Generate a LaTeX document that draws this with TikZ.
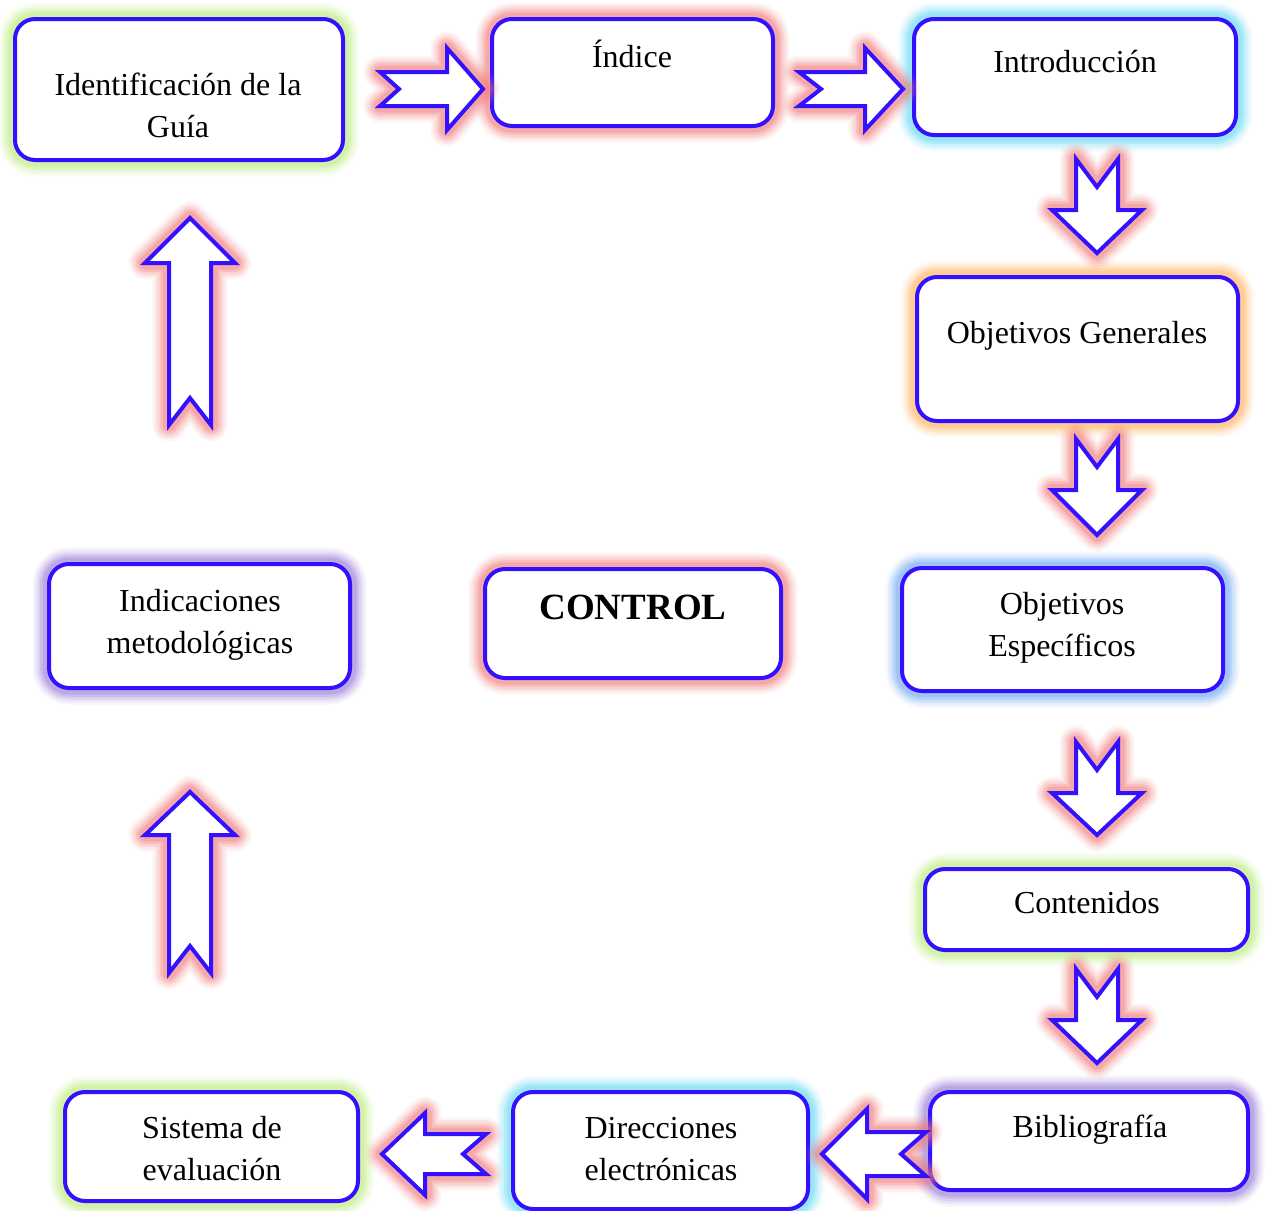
\documentclass[tikz,border=0pt]{standalone}
\usepackage{fontspec}
\setmainfont{Liberation Serif}
\definecolor{bstroke}{RGB}{51,17,255}
\definecolor{gRed}{RGB}{240,120,120}
\definecolor{gGreen}{RGB}{185,235,120}
\definecolor{gCyan}{RGB}{100,215,245}
\definecolor{gOrange}{RGB}{255,175,90}
\definecolor{gBlue}{RGB}{110,165,245}
\definecolor{gPurple}{RGB}{150,120,215}
\tikzset{
 glow/.style={preaction={draw=#1,line width=33pt,draw opacity=0.08,line join=round},
   preaction={draw=#1,line width=28pt,draw opacity=0.12,line join=round},
   preaction={draw=#1,line width=23pt,draw opacity=0.17,line join=round},
   preaction={draw=#1,line width=18pt,draw opacity=0.24,line join=round},
   preaction={draw=#1,line width=13pt,draw opacity=0.3,line join=round}},
 box/.style={rectangle,rounded corners=20pt,draw=bstroke,line width=4pt,fill=white,inner sep=0pt},
 txt/.style={align=center,font=\fontsize{32}{42}\selectfont,inner sep=0pt},
 barr/.style={draw=bstroke,line width=4pt,fill=white,line join=miter,glow=gRed},
}
% #1 name, #2 x1, #3 y1, #4 x2, #5 y2, #6 glow colour
\newcommand\gbox[6]{\node[box,glow=#6,minimum width={#4-#2-4},minimum height={#5-#3-4}] (#1) at ({(#2+#4)/2},{(#3+#5)/2}) {};}
% #1 x, #2 y (tail centre), #3 angle, #4 length, #5 notch, #6 head base, #7 shaft half, #8 head half
\newcommand\blockarrow[8]{%
 \begin{scope}[shift={(#1,#2)},rotate=#3]
  \draw[barr] (0,#7) -- (#6,#7) -- (#6,#8) -- (#4,0) -- (#6,-#8) -- (#6,-#7) -- (0,-#7) -- (#5,0) -- cycle;
 \end{scope}}
\begin{document}
\begin{tikzpicture}[x=1pt,y=-1pt]
\path[use as bounding box] (0,0) rectangle (1268,1210);
% boxes
\gbox{b1}{13}{17}{345}{162}{gGreen}
\gbox{b2}{490}{17}{775}{128}{gRed}
\gbox{b3}{912}{17}{1238}{137}{gCyan}
\gbox{b4}{915}{275}{1240}{423}{gOrange}
\gbox{b5}{900}{566}{1225}{693}{gBlue}
\gbox{b6}{923}{867}{1250}{952}{gGreen}
\gbox{b7}{928}{1090}{1250}{1192}{gPurple}
\gbox{b8}{511}{1090}{810}{1211}{gCyan}
\gbox{b9}{63}{1090}{360}{1203}{gGreen}
\gbox{b10}{47}{562}{352}{690}{gPurple}
\gbox{b11}{483}{567}{783}{680}{gRed}
% texts
\node[txt] (t1) at (178,108) {\strut Identificación de la\\\strut Guía};
\node[txt] (t2) at (632,59) {\strut Índice};
\node[txt] (t3) at (1075,64) {\strut Introducción};
\node[txt] (t4) at (1077,335) {\strut Objetivos Generales};
\node[txt] (t5) at (1062,627) {\strut Objetivos\\\strut Específicos};
\node[txt] (t6) at (1087,905) {\strut Contenidos};
\node[txt] (t7) at (1090,1129) {\strut Bibliografía};
\node[txt] (t8) at (661,1151) {\strut Direcciones\\\strut electrónicas};
\node[txt] (t9) at (212,1151) {\strut Sistema de\\\strut evaluación};
\node[txt] (t10) at (200,624) {\strut Indicaciones\\\strut metodológicas};
\node[txt,font=\fontsize{37}{44}\selectfont\bfseries] (t11) at (633,611) {\strut CONTROL};
% block arrows
\blockarrow{380}{89}{0}{103}{19}{67}{17}{41}
\blockarrow{799}{89}{0}{104}{22}{66}{17}{41}
\blockarrow{1097}{159}{-90}{94}{28}{51}{21}{45}
\blockarrow{1097}{439}{-90}{96}{28}{51}{21}{45}
\blockarrow{1097}{742}{-90}{93}{28}{51}{21}{45}
\blockarrow{1097}{969}{-90}{94}{28}{51}{21}{45}
\blockarrow{926}{1154}{180}{104}{25}{59}{22}{45}
\blockarrow{486}{1154}{180}{104}{23}{61}{20}{41}
\blockarrow{190}{425}{90}{207}{27}{162}{21}{45}
\blockarrow{190}{973}{90}{181}{27}{138}{21}{45}
\end{tikzpicture}
\end{document}
